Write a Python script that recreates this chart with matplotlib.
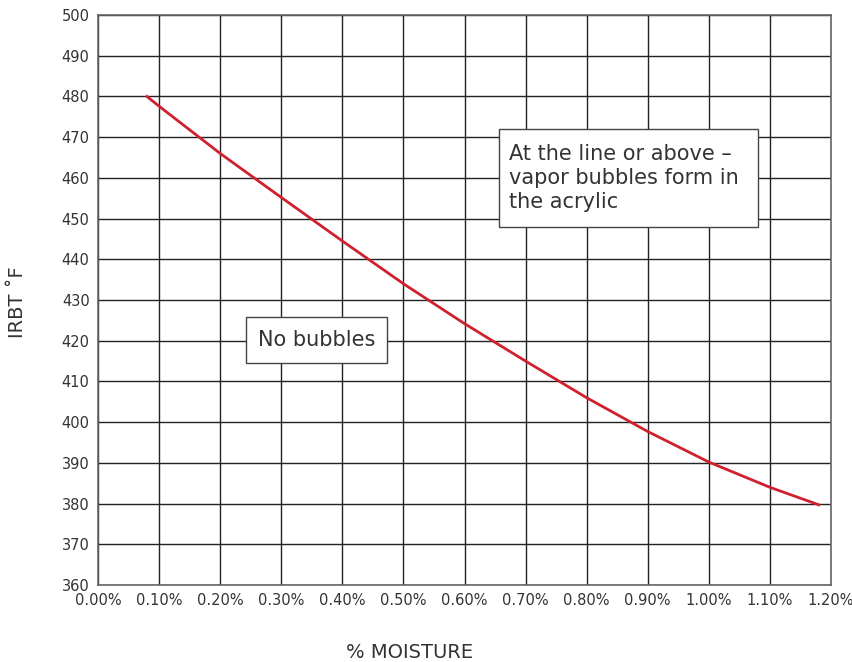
import matplotlib
matplotlib.use("Agg")
import matplotlib.pyplot as plt
from matplotlib.patches import Rectangle
from matplotlib.ticker import FuncFormatter

moisture = [0.08, 0.10, 0.20, 0.30, 0.40, 0.50, 0.60, 0.70, 0.80, 0.90, 1.00, 1.10, 1.18]
irbt = [480.0, 477.6, 466.0, 455.2, 444.5, 434.0, 424.2, 415.0, 406.0, 397.7, 390.2, 384.0, 379.7]

x_ticks = [i / 10 for i in range(13)]
y_ticks = list(range(360, 501, 10))

plt.rcParams['font.family'] = ['DejaVu Sans']
txt = '#333333'
W, H = 853, 662

fig = plt.figure(figsize=(8.53, 6.62), dpi=100)
ax = fig.add_axes([0.1149, 0.1163, 0.8593, 0.861])

ax.plot(moisture, irbt, color='#d0202e', lw=2.0, zorder=3)

ax.set_xlim(0, 1.2)
ax.set_ylim(360, 500)
ax.set_xticks(x_ticks)
ax.set_yticks(y_ticks)
ax.xaxis.set_major_formatter(FuncFormatter(lambda v, p: f"{v:.2f}%"))
ax.grid(True, color='#222222', lw=1.0)
ax.set_axisbelow(True)
for s in ax.spines.values():
    s.set_color('#666666')
    s.set_linewidth(1.2)
ax.tick_params(length=0, labelsize=10.5, colors=txt, pad=6)

fig.text(410 / W, 1 - 652 / H, '% MOISTURE', fontsize=14, color=txt, ha='center', va='center')
fig.text(18 / W, 1 - 302 / H, 'IRBT ˚F', fontsize=14, color=txt, ha='center', va='center', rotation=90)


def label_box(x0, y0, x1, y1):
    r = Rectangle((x0 / W, 1 - y1 / H), (x1 - x0) / W, (y1 - y0) / H, transform=fig.transFigure,
                  facecolor='white', edgecolor='#444444', lw=1.0, zorder=4)
    ax.add_patch(r)


label_box(246, 317, 387, 363)
fig.text(316.5 / W, 1 - 340 / H, 'No bubbles', fontsize=15, color=txt, ha='center', va='center', zorder=5)
label_box(499, 129, 758, 227)
fig.text(509 / W, 1 - 178 / H, 'At the line or above –\nvapor bubbles form in\nthe acrylic', fontsize=15,
         color=txt, ha='left', va='center', linespacing=1.25, zorder=5)

fig.savefig('out.png', dpi=100)
